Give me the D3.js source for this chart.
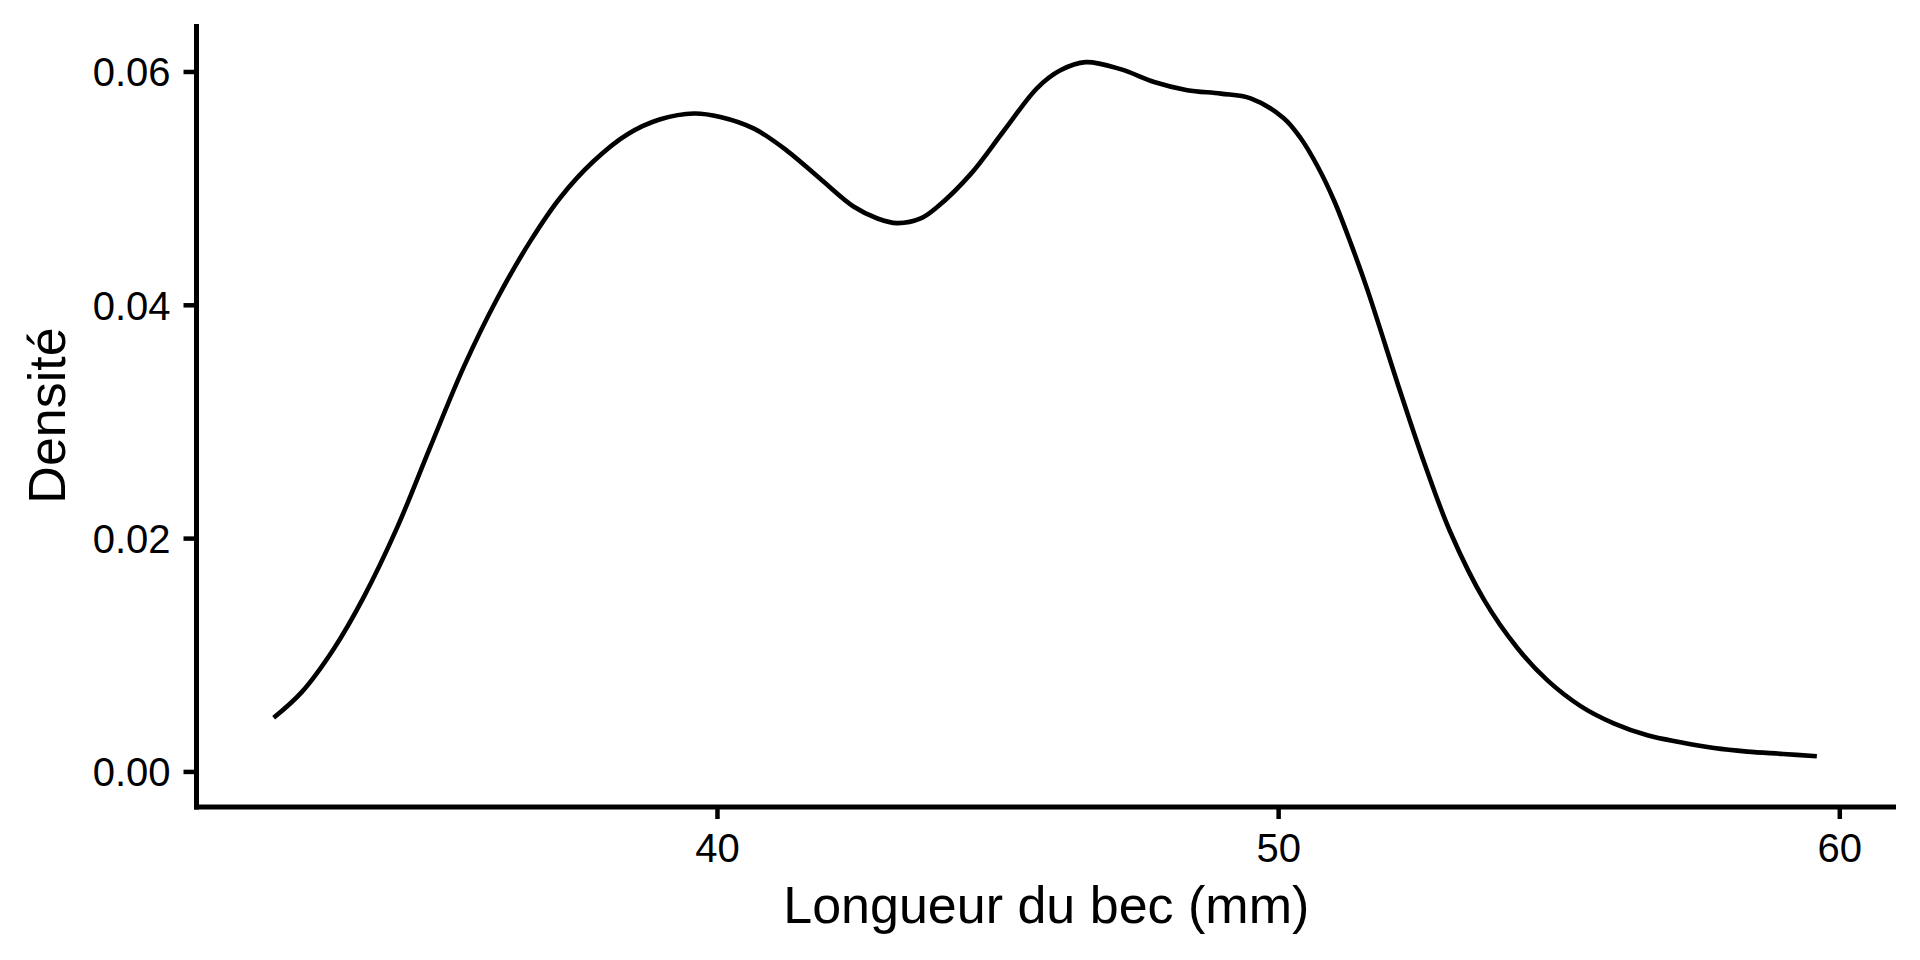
<!DOCTYPE html>
<html>
<head>
<meta charset="utf-8">
<script src="https://cdn.jsdelivr.net/npm/d3@7"></script>
<style>
  html, body { margin: 0; padding: 0; background: #ffffff; }
  svg { display: block; }
  text { font-family: "Liberation Sans", Arial, Helvetica, sans-serif; fill: #000; }
</style>
</head>
<body>
<svg id="chart" width="1920" height="960"></svg>
<script>
// Data
const billLength = [32.1, 32.6, 33.17, 33.7, 34.3, 34.89, 35.49, 36.08, 36.68, 37.21, 37.8, 38.4, 38.99, 39.59,
  40.06, 40.66, 41.25, 41.84, 42.44, 42.86, 43.21, 43.63, 43.93, 44.52, 45.11, 45.71, 46.12, 46.57, 47.19, 47.79,
  48.38, 48.98, 49.51, 50.1, 50.4, 50.7, 51.0, 51.3, 51.59, 52.18, 52.6, 53.07, 53.67, 54.26, 54.8, 55.39, 55.99, 56.58,
  57.17, 57.77, 58.36, 59.0, 59.6];
const density = [0.0046, 0.0068, 0.0105, 0.0149, 0.0209, 0.0278, 0.0347, 0.0405, 0.0455, 0.0492, 0.0523, 0.0546, 0.0559, 0.0564,
  0.0561, 0.0551, 0.0532, 0.0508, 0.0484, 0.0474, 0.0470, 0.0474, 0.0484, 0.0512, 0.0549, 0.0586, 0.0601, 0.0608, 0.0602, 0.0591,
  0.0584, 0.0581, 0.0577, 0.0560, 0.0543, 0.0519, 0.0489, 0.0452, 0.0413, 0.0325, 0.0265, 0.0205, 0.0147, 0.0106, 0.0078, 0.0056, 0.0041, 0.0031,
  0.0025, 0.0020, 0.0017, 0.0015, 0.0013];
const xTicks = [40, 50, 60];
const yTicks = [0, 0.02, 0.04, 0.06];
const xTitle = "Longueur du bec (mm)";
const yTitle = "Densité";

(function () {
const svg = d3.select("#chart");
const pLeft = 196.5, pRight = 1894, pTop = 24, pBottom = 807;

const x = d3.scaleLinear().domain([30.725, 60.975]).range([pLeft, pRight]);
const y = d3.scaleLinear().domain([-0.00305, 0.06407]).range([pBottom, pTop]);

const pts = billLength.map((v, i) => [v, density[i]]);

// density line
svg.append("path")
  .datum(pts)
  .attr("fill", "none")
  .attr("stroke", "#000")
  .attr("stroke-width", 4.6)
  .attr("stroke-linejoin", "round")
  .attr("d", d3.line().x(d => x(d[0])).y(d => y(d[1])).curve(d3.curveCatmullRom.alpha(0.5)));

// X axis
const xAxis = svg.append("g")
  .attr("transform", `translate(0,${pBottom})`)
  .call(d3.axisBottom(x).tickValues(xTicks).tickSize(12).tickPadding(0).tickFormat(d3.format("d")));
xAxis.select(".domain").remove();
xAxis.selectAll(".tick line").attr("stroke", "#000").attr("stroke-width", 4.5);
xAxis.selectAll(".tick text")
  .attr("font-size", 40)
  .attr("dy", null)
  .attr("y", 55)
  .attr("fill", "#000");

// Y axis
const yAxis = svg.append("g")
  .attr("transform", `translate(${pLeft},0)`)
  .call(d3.axisLeft(y).tickValues(yTicks).tickSize(13).tickPadding(0).tickFormat(d3.format(".2f")));
yAxis.select(".domain").remove();
yAxis.selectAll(".tick line").attr("stroke", "#000").attr("stroke-width", 4.5);
yAxis.selectAll(".tick text")
  .attr("font-size", 40)
  .attr("x", -26)
  .attr("dy", "0.36em")
  .attr("fill", "#000");

// axis lines
svg.append("line")
  .attr("x1", pLeft).attr("x2", pLeft)
  .attr("y1", pTop).attr("y2", pBottom + 2.5)
  .attr("stroke", "#000").attr("stroke-width", 5);
svg.append("line")
  .attr("x1", pLeft - 2.5).attr("x2", 1896)
  .attr("y1", pBottom).attr("y2", pBottom)
  .attr("stroke", "#000").attr("stroke-width", 5);

// titles
svg.append("text")
  .attr("x", (pLeft + 1896) / 2)
  .attr("y", 923)
  .attr("text-anchor", "middle")
  .attr("font-size", 52)
  .text(xTitle);

svg.append("text")
  .attr("transform", `translate(65,${(pTop + pBottom) / 2}) rotate(-90)`)
  .attr("text-anchor", "middle")
  .attr("font-size", 52)
  .text(yTitle);
})();
</script>
</body>
</html>
